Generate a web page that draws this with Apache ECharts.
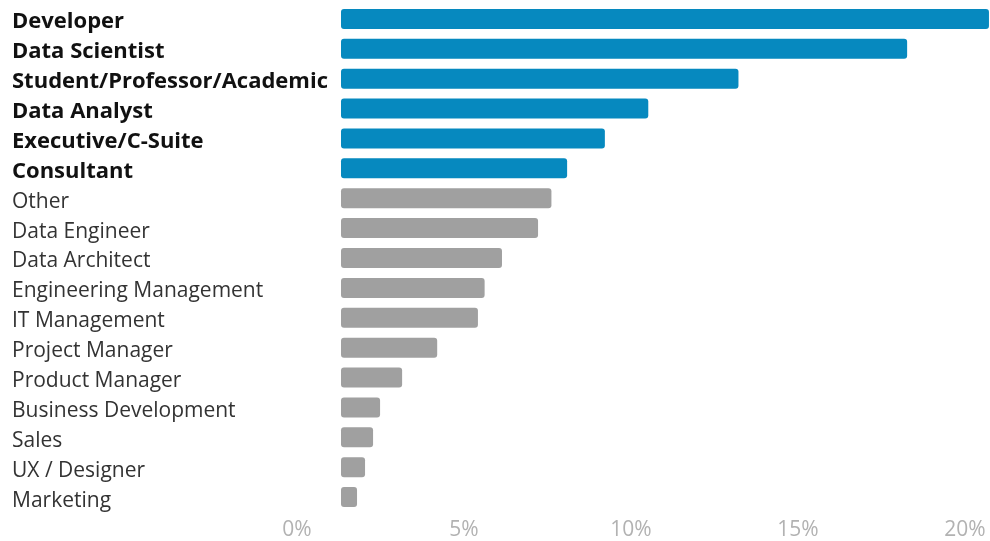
<!DOCTYPE html>
<html>
<head>
<meta charset="utf-8">
<script src="https://cdn.jsdelivr.net/npm/echarts@6/dist/echarts.min.js"></script>
<style>
  html, body { margin: 0; padding: 0; background: #fff; }
  #chart { width: 990px; height: 541px; }
</style>
</head>
<body>
<div id="chart"></div>
<script>
// Roles of survey respondents, share of respondents (%)
const roles = [
  'Developer', 'Data Scientist', 'Student/Professor/Academic', 'Data Analyst',
  'Executive/C-Suite', 'Consultant', 'Other', 'Data Engineer', 'Data Architect',
  'Engineering Management', 'IT Management', 'Project Manager', 'Product Manager',
  'Business Development', 'Sales', 'UX / Designer', 'Marketing'
];
const shares = [
  19.4, 16.95, 11.9, 9.2, 7.9, 6.77, 6.3, 5.9, 4.82, 4.3, 4.1, 2.88, 1.83,
  1.17, 0.96, 0.72, 0.48
];
// The first six roles are highlighted
const highlightCount = 6;
const tickLabels = ['0%', '5%', '10%', '15%', '20%'];

const BLUE = '#0689bf';
const GREY = '#a0a0a0';

// Both grids share the same pixels-per-percent scale
const PX_PER_PCT = 33.4;
const BAR_LEFT = 341;
const BAR_WIDTH_PX = 990 - BAR_LEFT;

const chart = echarts.init(document.getElementById('chart'), null, { renderer: 'canvas' });

const labelFont = '"Open Sans", "Noto Sans", sans-serif';

chart.setOption({
  animation: false,
  backgroundColor: '#ffffff',
  grid: [
    // bars
    { left: BAR_LEFT, top: 4, width: BAR_WIDTH_PX, height: 508, containLabel: false },
    // percentage scale along the bottom
    { left: 297, top: 4, width: 20 * PX_PER_PCT, height: 508, containLabel: false }
  ],
  xAxis: [
    {
      gridIndex: 0, type: 'value', min: 0, max: BAR_WIDTH_PX / PX_PER_PCT,
      show: false
    },
    {
      gridIndex: 1, type: 'value', min: 0, max: 20, interval: 5,
      axisLine: { show: false }, axisTick: { show: false }, splitLine: { show: false },
      axisLabel: {
        margin: 11,
        color: '#b2b2b2',
        fontFamily: labelFont,
        fontSize: 21,
        formatter: v => tickLabels[v / 5]
      }
    }
  ],
  yAxis: [
    {
      gridIndex: 0, type: 'category', data: roles, inverse: true,
      axisLine: { show: false }, axisTick: { show: false }, splitLine: { show: false },
      axisLabel: {
        margin: 329,
        align: 'left',
        fontFamily: labelFont,
        fontSize: 21,
        formatter: (v) => {
          const i = roles.indexOf(v);
          return i < highlightCount ? '{b|' + v + '}' : '{r|' + v + '}';
        },
        rich: {
          b: { fontFamily: labelFont, fontSize: 22, fontWeight: 'bold', color: '#111111', padding: [6, 0, 0, 0] },
          r: { fontFamily: labelFont, fontSize: 21, fontWeight: 'normal', color: '#333333', padding: [7, 0, 0, 0] }
        }
      }
    },
    {
      gridIndex: 1, type: 'category', data: roles, inverse: true, show: false
    }
  ],
  series: [
    {
      type: 'bar',
      xAxisIndex: 0, yAxisIndex: 0,
      barWidth: 20,
      data: shares.map((v, i) => ({
        value: v,
        itemStyle: { color: i < highlightCount ? BLUE : GREY, borderRadius: 3 }
      })),
      silent: true
    }
  ]
});
</script>
</body>
</html>
